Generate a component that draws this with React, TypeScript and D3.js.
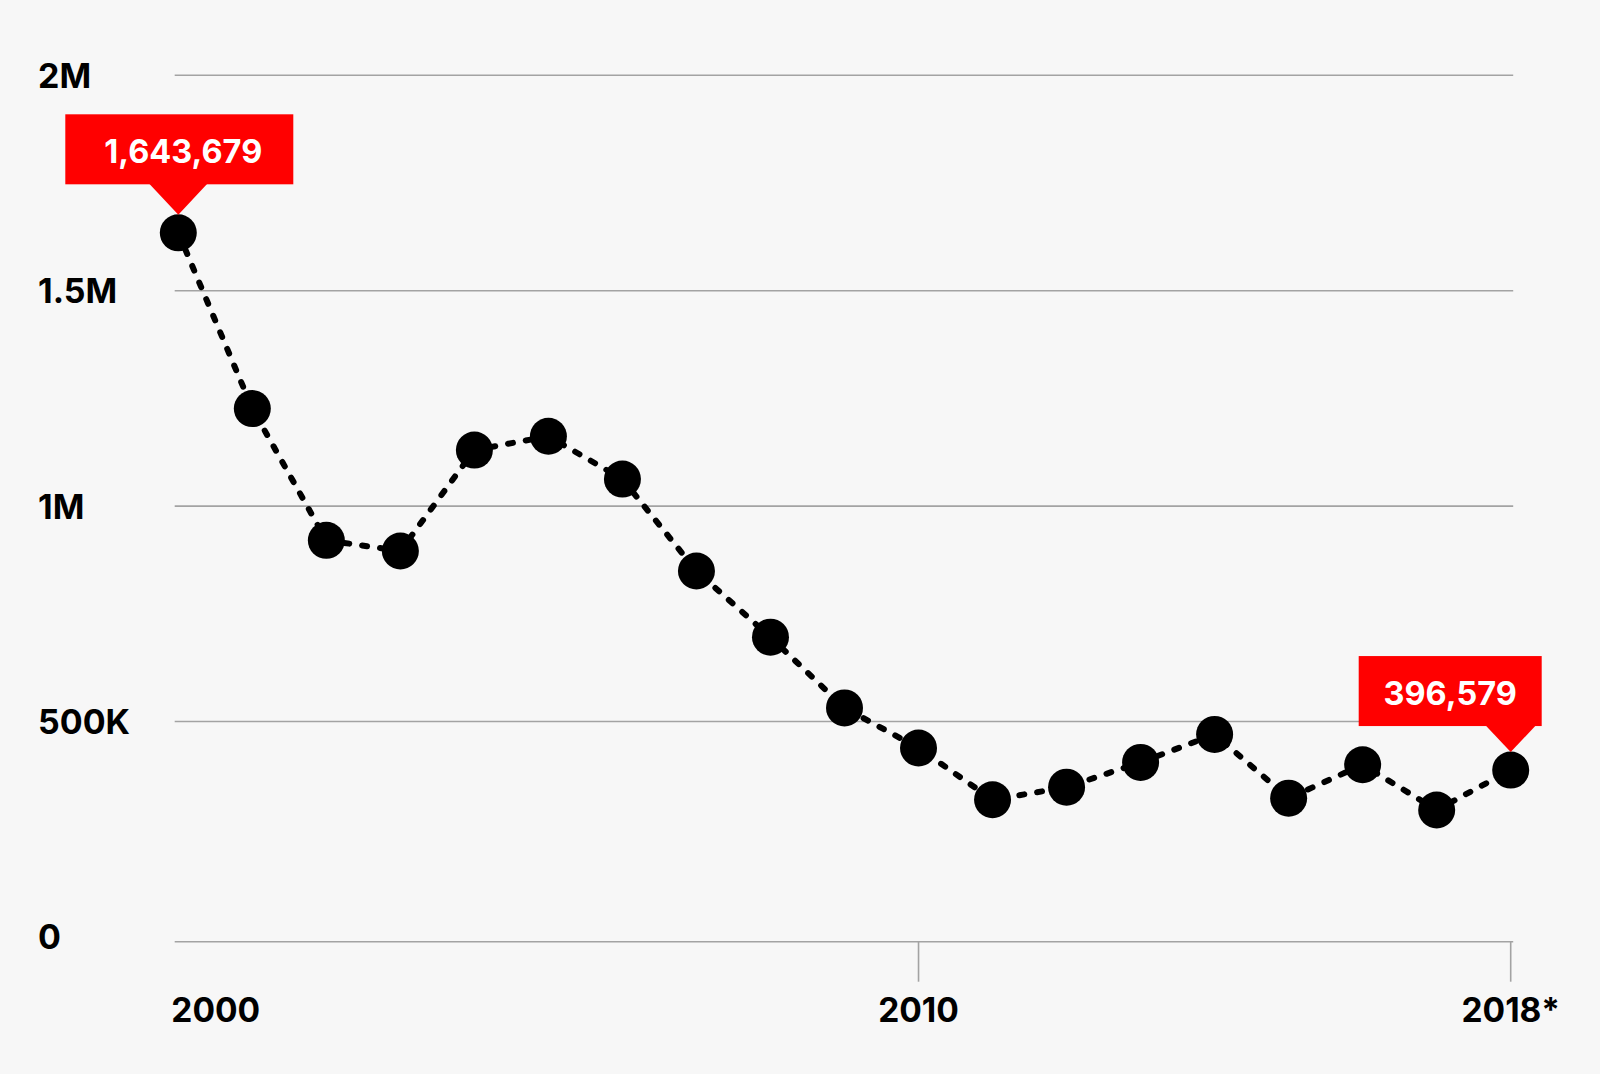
import React from "react";
import * as d3 from "d3";

const years: number[] = [2000, 2001, 2002, 2003, 2004, 2005, 2006, 2007, 2008, 2009, 2010, 2011, 2012, 2013, 2014, 2015, 2016, 2017, 2018];
const values: number[] = [1643679, 1235718, 929809, 905065, 1139282, 1171396, 1071972, 858638, 705005, 540865, 447731, 327577, 356873, 414397, 479371, 331333, 408870, 303916, 396579];
const yTicks: number[] = [0, 500000, 1000000, 1500000, 2000000];
const yTickLabels: string[] = ["0", "500K", "1M", "1.5M", "2M"];
const xTicks: number[] = [2000, 2010, 2018];
const xTickLabels: string[] = ["2000", "2010", "2018*"];
const callouts: { year: number; label: string }[] = [
  { year: 2000, label: "1,643,679" },
  { year: 2018, label: "396,579" },
];

const W = 1600;
const H = 1074;
const FONT = "Inter, 'Noto Sans', sans-serif";

export default function App() {
  const x = d3.scaleLinear().domain([2000, 2018]).range([178.3, 1510.7]);
  const y = d3.scaleLinear().domain([0, 2000000]).range([940.9, 79.3]);
  const data = years.map((yr, i) => ({ yr, v: values[i] }));
  const line = d3
    .line<{ yr: number; v: number }>()
    .x((d) => x(d.yr))
    .y((d) => y(d.v))
    .curve(d3.curveLinear);
  const r = 18.5;
  const gx0 = x.range()[0] - 3.6;
  const gx1 = x.range()[1] + 2.5;
  const gridY = (t: number) => (t === 0 ? y(t) + 0.8 : y(t) - 4);

  return (
    <div style={{ position: "fixed", left: 0, top: 0, width: W, height: H, background: "#f7f7f7" }}>
      <svg width={W} height={H} style={{ display: "block" }}>
        <rect x={0} y={0} width={W} height={H} fill="#f7f7f7" />
        {yTicks.map((t, i) => (
          <g key={t}>
            <line x1={gx0} x2={gx1} y1={gridY(t)} y2={gridY(t)} stroke="#a3a3a3" strokeWidth={1.6} />
            <text x={38} y={y(t) + 8.5} fontFamily={FONT} fontWeight={700} fontSize={34} fill="#000">
              {yTickLabels[i]}
            </text>
          </g>
        ))}
        {xTicks.map((t, i) => (
          <g key={t}>
            {i > 0 && <line x1={x(t)} x2={x(t)} y1={gridY(0)} y2={gridY(0) + 40} stroke="#a3a3a3" strokeWidth={1.6} />}
            <text
              x={i === 0 ? x(t) - 7 : x(t)}
              y={1022}
              textAnchor={i === 0 ? "start" : "middle"}
              fontFamily={FONT}
              fontWeight={700}
              fontSize={33.5}
              fill="#000"
            >
              {xTickLabels[i]}
            </text>
          </g>
        ))}
        <path
          d={line(data) || ""}
          fill="none"
          stroke="#000"
          strokeWidth={6}
          strokeDasharray="5 13"
          strokeLinecap="round"
        />
        {data.map((d) => (
          <circle key={d.yr} cx={x(d.yr)} cy={y(d.v)} r={r} fill="#000" />
        ))}
        {callouts.map((c, i) => {
          const v = values[years.indexOf(c.year)];
          const px = x(c.year);
          const py = y(v);
          const tipY = py - r + 0.5;
          const pointerH = i === 0 ? 30.5 : 26;
          const halfW = i === 0 ? 29 : 25;
          const rectBottom = tipY - pointerH;
          const rectTop = rectBottom - 70;
          const left = i === 0 ? px - 113 : px - 152;
          const right = i === 0 ? px + 115 : px + 31;
          const cx = (left + right) / 2;
          return (
            <g key={c.year}>
              <rect x={left} y={rectTop} width={right - left} height={70} fill="#ff0000" />
              <path d={`M${px - halfW},${rectBottom - 0.5}L${px + halfW},${rectBottom - 0.5}L${px},${tipY}Z`} fill="#ff0000" />
              <text
                x={cx + (i === 0 ? 4 : 0)}
                y={rectTop + 48.5}
                textAnchor="middle"
                fontFamily={FONT}
                fontWeight={700}
                fontSize={32.5}
                fill="#fff"
              >
                {c.label}
              </text>
            </g>
          );
        })}
      </svg>
    </div>
  );
}
